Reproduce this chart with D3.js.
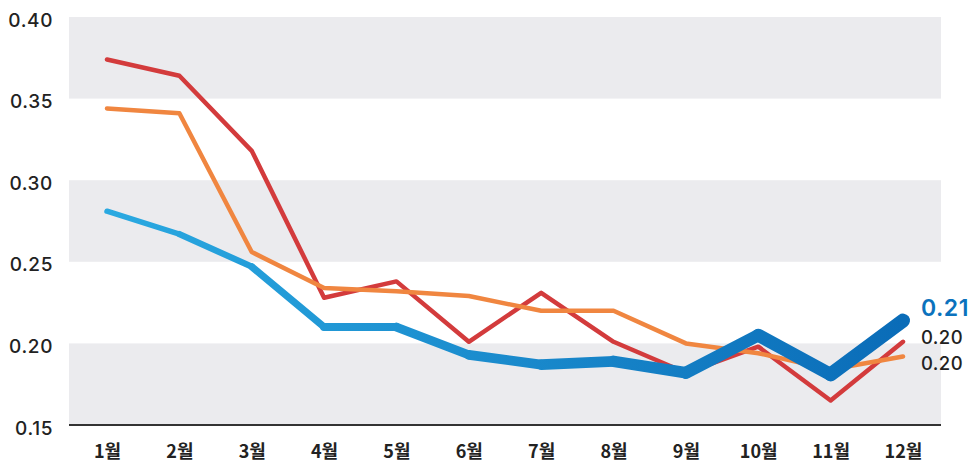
<!DOCTYPE html>
<html>
<head>
<meta charset="utf-8">
<script src="https://cdn.jsdelivr.net/npm/d3@7"></script>
<style>
  html, body { margin: 0; padding: 0; background: #fff; }
  svg { display: block; font-family: "Noto Sans CJK KR", "Noto Sans", sans-serif; }
</style>
</head>
<body>
<svg id="chart" width="975" height="466"></svg>
<script>
const months = ["1월","2월","3월","4월","5월","6월","7월","8월","9월","10월","11월","12월"];
const seriesRed    = [0.374, 0.364, 0.318, 0.228, 0.238, 0.201, 0.231, 0.201, 0.182, 0.198, 0.165, 0.201];
const seriesOrange = [0.344, 0.341, 0.256, 0.234, 0.232, 0.229, 0.220, 0.220, 0.200, 0.194, 0.184, 0.192];
const seriesBlue   = [0.281, 0.267, 0.247, 0.210, 0.210, 0.193, 0.187, 0.189, 0.182, 0.205, 0.181, 0.214];
const yTicks = [0.15, 0.20, 0.25, 0.30, 0.35, 0.40];
const endLabels = ["0.21", "0.20", "0.20"];

const svg = d3.select("#chart");
const plotLeft = 69, plotRight = 941, plotTop = 17, plotBottom = 425;

const x = d3.scalePoint().domain(months).range([107, 903]);
const y = d3.scaleLinear().domain([0.15, 0.40]).range([plotBottom, plotTop]);

// alternating bands
const bandPairs = d3.pairs(yTicks);
svg.append("g").selectAll("rect")
  .data(bandPairs.filter((d, i) => i % 2 === 0))
  .join("rect")
  .attr("x", plotLeft)
  .attr("width", plotRight - plotLeft)
  .attr("y", d => y(d[1]))
  .attr("height", d => y(d[0]) - y(d[1]))
  .attr("fill", "#ebebee");

// y labels
svg.append("g").selectAll("text")
  .data(yTicks)
  .join("text")
  .attr("x", 53)
  .attr("y", d => y(d) + 3)
  .attr("dy", "0.35em")
  .attr("text-anchor", "end")
  .attr("font-family", "Inter, 'Noto Sans', sans-serif")
  .attr("font-size", 19)
  .attr("font-weight", 500)
  .attr("letter-spacing", "0.6px")
  .attr("fill", "#222")
  .text(d => d3.format(".2f")(d));

// x axis
const xAxis = svg.append("g")
  .attr("transform", `translate(0,${plotBottom})`)
  .call(d3.axisBottom(x).tickSize(0).tickPadding(20));
xAxis.select(".domain").remove();
xAxis.append("line")
  .attr("x1", plotLeft).attr("x2", plotRight)
  .attr("stroke", "#333").attr("stroke-width", 2);
xAxis.selectAll(".tick text")
  .attr("font-size", 18)
  .attr("font-weight", 700)
  .attr("fill", "#222")
  .attr("font-family", "'Noto Sans CJK KR', sans-serif");

const line = d3.line().x((d, i) => x(months[i])).y(d => y(d));

svg.append("path")
  .datum(seriesRed)
  .attr("d", line)
  .attr("fill", "none")
  .attr("stroke", "#d33b3c")
  .attr("stroke-width", 4.5)
  .attr("stroke-linejoin", "round")
  .attr("stroke-linecap", "round");

svg.append("path")
  .datum(seriesOrange)
  .attr("d", line)
  .attr("fill", "none")
  .attr("stroke", "#f08640")
  .attr("stroke-width", 4.5)
  .attr("stroke-linejoin", "round")
  .attr("stroke-linecap", "round");

// blue: growing width with gradient
const defs = svg.append("defs");
const grad = defs.append("linearGradient")
  .attr("id", "blueGrad")
  .attr("gradientUnits", "userSpaceOnUse")
  .attr("x1", x(months[0])).attr("x2", x(months[months.length - 1]))
  .attr("y1", 0).attr("y2", 0);
grad.append("stop").attr("offset", "0%").attr("stop-color", "#2aa9e1");
grad.append("stop").attr("offset", "100%").attr("stop-color", "#0a6cb8");

const segs = d3.pairs(seriesBlue.map((v, i) => [x(months[i]), y(v)]));
const wScale = d3.scaleLinear().domain([0, segs.length - 1]).range([5.5, 14]);
svg.append("g").selectAll("line")
  .data(segs)
  .join("line")
  .attr("x1", d => d[0][0]).attr("y1", d => d[0][1])
  .attr("x2", d => d[1][0]).attr("y2", d => d[1][1])
  .attr("stroke", "url(#blueGrad)")
  .attr("stroke-width", (d, i) => wScale(i))
  .attr("stroke-linecap", "round");

// end labels
const endG = svg.append("g").attr("font-family", "Inter, 'Noto Sans', sans-serif");
endG.append("text")
  .attr("x", 921).attr("y", 316)
  .attr("font-size", 23).attr("font-weight", 600)
  .attr("letter-spacing", "0.5px")
  .attr("fill", "#0b72bd")
  .text(endLabels[0]);
endG.append("text")
  .attr("x", 921).attr("y", 344)
  .attr("font-size", 18.5).attr("font-weight", 500)
  .attr("letter-spacing", "0.4px")
  .attr("fill", "#222")
  .text(endLabels[1]);
endG.append("text")
  .attr("x", 921).attr("y", 370)
  .attr("font-size", 18.5).attr("font-weight", 500)
  .attr("letter-spacing", "0.4px")
  .attr("fill", "#222")
  .text(endLabels[2]);
</script>
</body>
</html>
